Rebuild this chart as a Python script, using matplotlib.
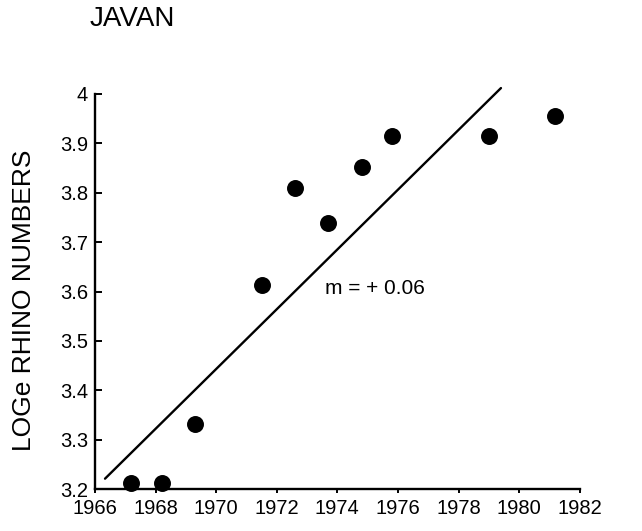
import numpy as np
import matplotlib
matplotlib.use("Agg")
import matplotlib.pyplot as plt

plt.rcParams['font.family'] = ['Liberation Sans', 'DejaVu Sans']

years = [1967.2, 1968.2, 1969.3, 1971.5, 1972.6, 1973.7, 1974.8, 1975.8, 1979.0, 1981.2]
log_numbers = [3.213, 3.213, 3.331, 3.613, 3.809, 3.739, 3.852, 3.914, 3.914, 3.955]

# fitted line end points
fit_x = [1966.33, 1979.4]
fit_y = [3.221, 4.012]

x_ticks = list(range(1966, 1983, 2))
y_ticks = [3.2, 3.3, 3.4, 3.5, 3.6, 3.7, 3.8, 3.9, 4.0]
y_labels = ['3.2', '3.3', '3.4', '3.5', '3.6', '3.7', '3.8', '3.9', '4']

fig = plt.figure(figsize=(6.42, 5.31), dpi=100)
ax = fig.add_axes([0.148, 0.079, 0.755, 0.744])

ax.plot(fit_x, fit_y, color='black', lw=1.7, solid_capstyle='round', clip_on=False)
ax.scatter(years, log_numbers, s=125, color='black', zorder=3, clip_on=False)

ax.set_xlim(1966, 1982)
ax.set_ylim(3.2, 4.0)
ax.set_xticks(x_ticks)
ax.set_yticks(y_ticks)
ax.set_yticklabels(y_labels)

for side in ['top', 'right']:
    ax.spines[side].set_visible(False)
for side in ['left', 'bottom']:
    ax.spines[side].set_linewidth(1.7)

ax.tick_params(axis='x', direction='out', length=3, width=1.4, labelsize=14.5, pad=4)
ax.tick_params(axis='y', direction='in', length=5, width=1.4, labelsize=14.5, pad=5)

ax.text(1975.25, 3.607, 'm = + 0.06', ha='center', va='center', fontsize=15)

fig.text(90 / 642, 1 - 19 / 531, 'JAVAN', ha='left', va='center', fontsize=20)
fig.text(24 / 642, 1 - 300 / 531, 'LOGe RHINO NUMBERS', rotation=90,
         ha='center', va='center', fontsize=19)

fig.savefig('out.png', dpi=100)
